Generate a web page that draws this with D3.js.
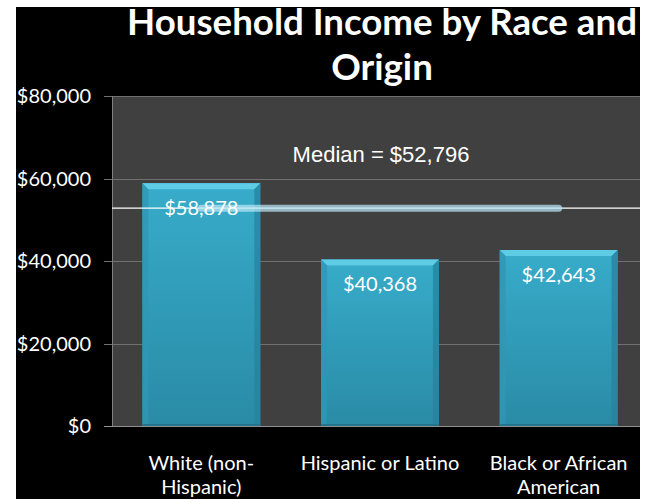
<!DOCTYPE html>
<html><head><meta charset="utf-8">
<script src="https://cdn.jsdelivr.net/npm/d3@7"></script>
<style>html,body{margin:0;padding:0;background:#fff;}svg{display:block;}</style>
</head><body>
<svg id="chart" width="652" height="499"></svg>
<script>
const categories = ["White (non-Hispanic)", "Hispanic or Latino", "Black or African American"];
const categoryLines = [["White (non-", "Hispanic)"], ["Hispanic or Latino"], ["Black or African", "American"]];
const incomeValues = [58878, 40368, 42643];
const medianValues = [52796, 52796, 52796];
const medianLabel = "Median = $52,796";
const yTicks = [0, 20000, 40000, 60000, 80000];
const titleLines = ["Household Income by Race and", "Origin"];

const W = 652, H = 499;
const svg = d3.select("#chart");
const defs = svg.append("defs");

// background
svg.append("rect").attr("x", 0).attr("y", 0).attr("width", W).attr("height", H).attr("fill", "#fff");
svg.append("rect").attr("x", 16).attr("y", 7).attr("width", 624).attr("height", H - 7).attr("fill", "#000");

defs.append("clipPath").attr("id", "clip").append("rect")
  .attr("x", 16).attr("y", 7).attr("width", 624).attr("height", H - 7);

const plot = { left: 112, right: 648, top: 96, bottom: 426 };
const x = d3.scaleBand().domain(categories).range([plot.left, plot.right]).paddingInner(0.34).paddingOuter(0.17);
const y = d3.scaleLinear().domain([0, 80000]).range([plot.bottom, plot.top]);

const g = svg.append("g").attr("clip-path", "url(#clip)");

g.append("rect").attr("x", plot.left).attr("y", plot.top)
  .attr("width", plot.right - plot.left).attr("height", plot.bottom - plot.top).attr("fill", "#404040");

// gridlines
g.selectAll("line.grid").data(yTicks.filter(t => t > 0)).join("line")
  .attr("x1", plot.left - 8).attr("x2", plot.right)
  .attr("y1", d => Math.round(y(d)) + 0.5).attr("y2", d => Math.round(y(d)) + 0.5)
  .attr("stroke", "#707070").attr("stroke-width", 1);

// axis lines
g.append("line").attr("x1", plot.left + 0.5).attr("x2", plot.left + 0.5)
  .attr("y1", plot.top).attr("y2", plot.bottom).attr("stroke", "#808080");
g.append("line").attr("x1", plot.left - 8).attr("x2", plot.right)
  .attr("y1", plot.bottom + 0.5).attr("y2", plot.bottom + 0.5).attr("stroke", "#909090");

// y axis labels
svg.selectAll("text.ytick").data(yTicks).join("text")
  .attr("x", 91).attr("y", d => y(d)).attr("dy", "0.35em")
  .attr("text-anchor", "end").attr("fill", "#fff")
  .attr("font-family", "Lato, sans-serif").attr("font-size", 20)
  .text(d => d3.format("$,")(d));

// bar gradient
const grad = defs.append("linearGradient").attr("id", "barGrad").attr("x1", 0).attr("y1", 0).attr("x2", 0).attr("y2", 1);
grad.append("stop").attr("offset", "0%").attr("stop-color", "#37acca");
grad.append("stop").attr("offset", "100%").attr("stop-color", "#2a8ba6");

const bev = 6;
const bars = g.selectAll("g.bar").data(categories).join("g").attr("class", "bar");
bars.append("rect")
  .attr("x", d => x(d)).attr("y", (d, i) => y(incomeValues[i]))
  .attr("width", x.bandwidth()).attr("height", (d, i) => y(0) - y(incomeValues[i]))
  .attr("fill", "url(#barGrad)");
// bevel top
bars.append("polygon").attr("points", (d, i) => {
  const x0 = x(d), x1 = x(d) + x.bandwidth(), yt = y(incomeValues[i]);
  return [[x0, yt], [x1, yt], [x1 - bev, yt + bev], [x0 + bev, yt + bev]].join(" ");
}).attr("fill", "#5fcce6");
// bevel left
bars.append("polygon").attr("points", (d, i) => {
  const x0 = x(d), yt = y(incomeValues[i]), yb = y(0);
  return [[x0, yt], [x0 + bev, yt + bev], [x0 + bev, yb - 2], [x0, yb]].join(" ");
}).attr("fill", "#2f97b4").attr("opacity", 0.8);
// bevel right
bars.append("polygon").attr("points", (d, i) => {
  const x1 = x(d) + x.bandwidth(), yt = y(incomeValues[i]), yb = y(0);
  return [[x1, yt], [x1 - bev, yt + bev], [x1 - bev, yb - 2], [x1, yb]].join(" ");
}).attr("fill", "#2883a0").attr("opacity", 0.8);
// bottom edge
bars.append("rect").attr("x", d => x(d)).attr("y", y(0) - 2)
  .attr("width", x.bandwidth()).attr("height", 2).attr("fill", "#22758d");

// thin median reference line
g.append("line").attr("x1", plot.left).attr("x2", plot.right)
  .attr("y1", y(medianValues[0])).attr("y2", y(medianValues[0]))
  .attr("stroke", "#ffffff").attr("stroke-width", 1.2);

// thick median series line
const line = d3.line().x((d, i) => x(categories[i]) + x.bandwidth() / 2).y(d => y(d));
g.append("path").datum(medianValues).attr("d", line)
  .attr("fill", "none").attr("stroke", "#b8e4f4").attr("stroke-opacity", 0.72)
  .attr("stroke-width", 7).attr("stroke-linecap", "round");

// data labels
g.selectAll("text.dl").data(categories).join("text")
  .attr("x", d => x(d) + x.bandwidth() / 2).attr("y", (d, i) => y(incomeValues[i]) + 32)
  .attr("text-anchor", "middle").attr("fill", "#fff")
  .attr("font-family", "Lato, sans-serif").attr("font-size", 20)
  .text((d, i) => d3.format("$,")(incomeValues[i]));

// median label
svg.append("text").attr("x", 381).attr("y", 162).attr("text-anchor", "middle")
  .attr("fill", "#fff").attr("font-family", "'Liberation Sans', Arial, sans-serif").attr("font-size", 22)
  .text(medianLabel);

// x labels
const xl = svg.selectAll("text.xl").data(categories).join("text")
  .attr("text-anchor", "middle").attr("fill", "#fff")
  .attr("font-family", "Lato, sans-serif").attr("font-size", 20);
xl.each(function (d, i) {
  const t = d3.select(this);
  categoryLines[i].forEach((s, k) => {
    t.append("tspan").attr("x", x(d) + x.bandwidth() / 2).attr("y", 470 + k * 24).text(s);
  });
});

// title
const title = svg.append("text").attr("text-anchor", "middle").attr("fill", "#fff")
  .attr("font-family", "Lato, sans-serif").attr("font-weight", "bold").attr("font-size", 36);
titleLines.forEach((s, k) => {
  title.append("tspan").attr("x", 382).attr("y", 35 + k * 45).text(s);
});
// fit first line width to ~510px
const firstSpan = title.select("tspan").node();
const wlen = firstSpan.getComputedTextLength();
if (wlen > 0) title.attr("font-size", 36 * 510 / wlen);
</script>
</body></html>
